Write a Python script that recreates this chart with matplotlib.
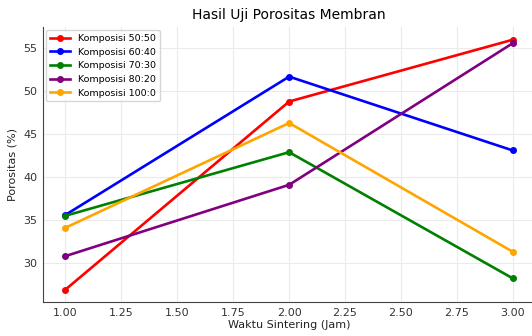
import matplotlib.pyplot as plt

waktu = [1.0, 2.0, 3.0]
komposisi = ["Komposisi 50:50", "Komposisi 60:40", "Komposisi 70:30",
             "Komposisi 80:20", "Komposisi 100:0"]
porositas = {
    "Komposisi 50:50": [26.9, 48.8, 56.0],
    "Komposisi 60:40": [35.6, 51.7, 43.1],
    "Komposisi 70:30": [35.5, 42.9, 28.2],
    "Komposisi 80:20": [30.8, 39.1, 55.6],
    "Komposisi 100:0": [34.1, 46.3, 31.3],
}
warna = ["red", "blue", "green", "purple", "orange"]

fig = plt.figure(figsize=(5.32, 3.36), dpi=100)
ax = fig.add_axes([0.081, 0.101, 0.925, 0.818])
for nama, c in zip(komposisi, warna):
    ax.plot(waktu, porositas[nama], marker="o", markersize=4, linewidth=1.9, color=c, label=nama)

ax.set_title("Hasil Uji Porositas Membran", fontsize=10, pad=6)
ax.set_xlabel("Waktu Sintering (Jam)", fontsize=8, labelpad=2, color="#222222")
ax.set_ylabel("Porositas (%)", fontsize=8, labelpad=4, color="#222222")
ax.tick_params(labelsize=8, length=0, pad=4, labelcolor="#333333")
ax.set_xticks([1.0, 1.25, 1.5, 1.75, 2.0, 2.25, 2.5, 2.75, 3.0])
ax.grid(True, color="#ebebeb", linewidth=0.8)
for s in ["top", "right"]:
    ax.spines[s].set_visible(False)
for s in ["left", "bottom"]:
    ax.spines[s].set_color("#444444")
ax.legend(fontsize=6.8, loc="upper left", borderaxespad=0.3, handlelength=2.2)

plt.savefig("out.png")
